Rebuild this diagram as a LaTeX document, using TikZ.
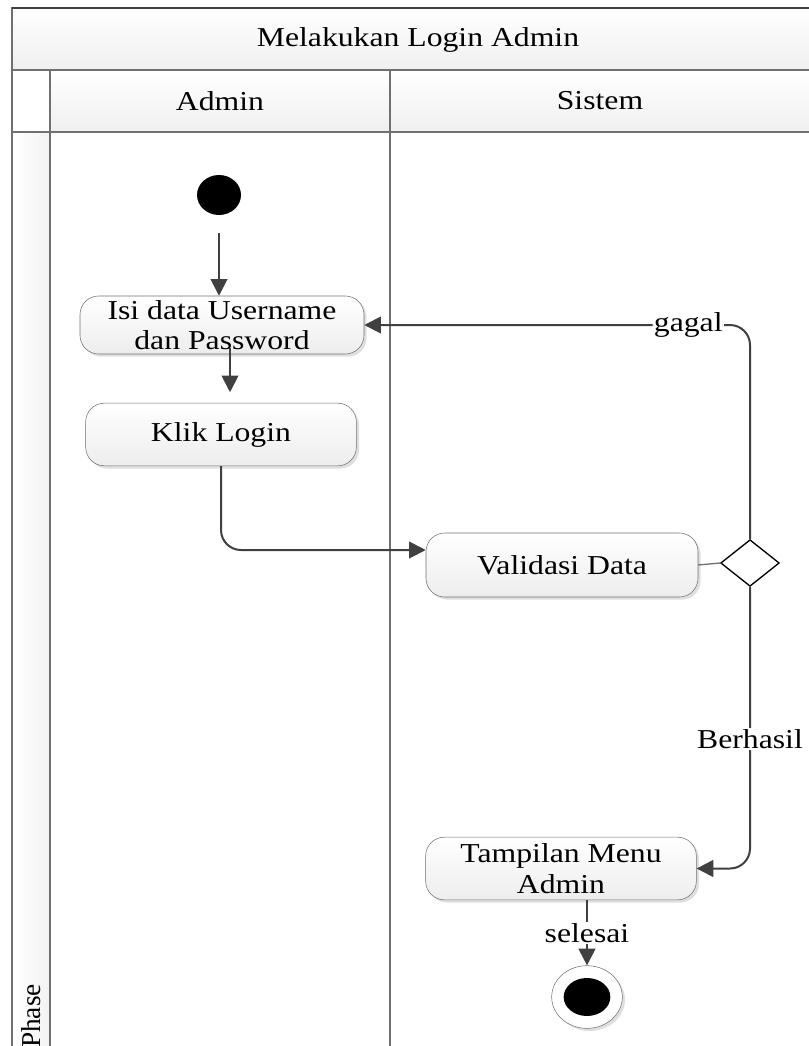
\documentclass[tikz,border=0pt]{standalone}
\usepackage{fontspec}
\setmainfont[FakeStretch=1.16]{Liberation Serif}
\newfontfamily\phasefont{Liberation Serif}
\usetikzlibrary{shapes,arrows.meta,positioning,calc,shadows}
\definecolor{linegray}{HTML}{404040}
\definecolor{framegray}{HTML}{707070}
\tikzset{
    %Define standard arrow tip
    >={Triangle[length=12.5pt,width=12.5pt]},
    %Define style for boxes
    block/.style={
           rectangle,
           rounded corners=14pt,
           draw=framegray,
           top color=white,
           bottom color=gray!14,
           drop shadow={opacity=0.25, shadow xshift=2pt, shadow yshift=-2pt},
           minimum width=203pt,
           minimum height=47pt,
           inner sep=0pt,
           align=center},
    % Define arrow style
    arrow/.style={
           ->,
           draw=linegray,
           line width=1.5pt,
           },
    % Define style for lane headers
    header/.style={
           draw=framegray,
           line width=1pt,
           top color=white,
           bottom color=gray!12},
    % Define style for guard labels
    guard/.style={fill=white, inner sep=1pt}
}

\begin{document}
\begin{tikzpicture}[x=0.75pt, y=-0.75pt, every node/.style={font=\fontsize{20.5}{23}\selectfont}]
    \useasboundingbox (0,0) rectangle (809,1046);

    % swimlane frame
    \path[header] (12,8) rectangle (830,70);
    \path[header] (50,70) rectangle (390,132);
    \path[header] (390,70) rectangle (830,132);
    \path[draw=framegray, line width=1pt, left color=white, right color=gray!10] (12,132) rectangle (50,1070);
    \draw[framegray, line width=1pt] (12,70) rectangle (50,132);
    \draw[framegray, line width=1pt] (390,132) -- (390,1070);
    \draw[linegray, line width=1.5pt] (12,8) -- (830,8);
    \node (title) at (418,40) {Melakukan Login Admin};
    \node (laneAdmin) at (220,101) {Admin};
    \node (laneSistem) at (600,101) {Sistem};
    \node[rotate=90, font=\phasefont\fontsize{20.5}{23}\selectfont] (phase) at (31,1016) {Phase};

    % activities
    \node[ellipse, fill=black, minimum width=33pt, minimum height=30pt, inner sep=0pt] (start) at (219,195) {};
    \node[block, minimum width=213pt, minimum height=43.5pt] (isi) at (222,325) {Isi data Username\\dan Password};
    \node[block] (klik) at (221,434.5) {Klik Login};
    \node[block, minimum width=204pt, minimum height=48pt] (valid) at (562,565) {Validasi Data};
    \node[diamond, draw=black, line width=1pt, fill=white, minimum width=44pt, minimum height=35pt, inner sep=0pt] (dec) at (750,563) {};
    \node[block] (menu) at (561,868.5) {Tampilan Menu\\Admin};
    \node[ellipse, draw=framegray, fill=white, drop shadow={opacity=0.25, shadow xshift=2pt, shadow yshift=-2pt}, minimum width=53pt, minimum height=47pt, inner sep=0pt] (fin) at (587,997) {};
    \node[ellipse, fill=black, minimum width=35pt, minimum height=28.5pt, inner sep=0pt] (finDot) at (fin.center) {};

    % flows
    \draw[arrow, shorten <=13pt] (start.south) -- (start.south |- isi.north);
    \draw[arrow, shorten >=8pt] ([xshift=6pt,yshift=5pt]isi.south) -- ([xshift=6pt]isi.south |- klik.north);
    \draw[arrow, rounded corners=15pt] (klik.south) |- ($(valid.west)+(0,-15)$);
    \draw[framegray, line width=1pt] (valid.east) -- (dec.west);
    \draw[arrow, rounded corners=15pt] (dec.north) |- node[guard, pos=0.58] {gagal} (isi.east);
    \draw[arrow, rounded corners=15pt] (dec.south) |- node[guard, pos=0.27] {Berhasil} (menu.east);
    \draw[arrow] (menu.south -| fin.north) -- node[guard] {selesai} (fin.north);
\end{tikzpicture}
\end{document}
